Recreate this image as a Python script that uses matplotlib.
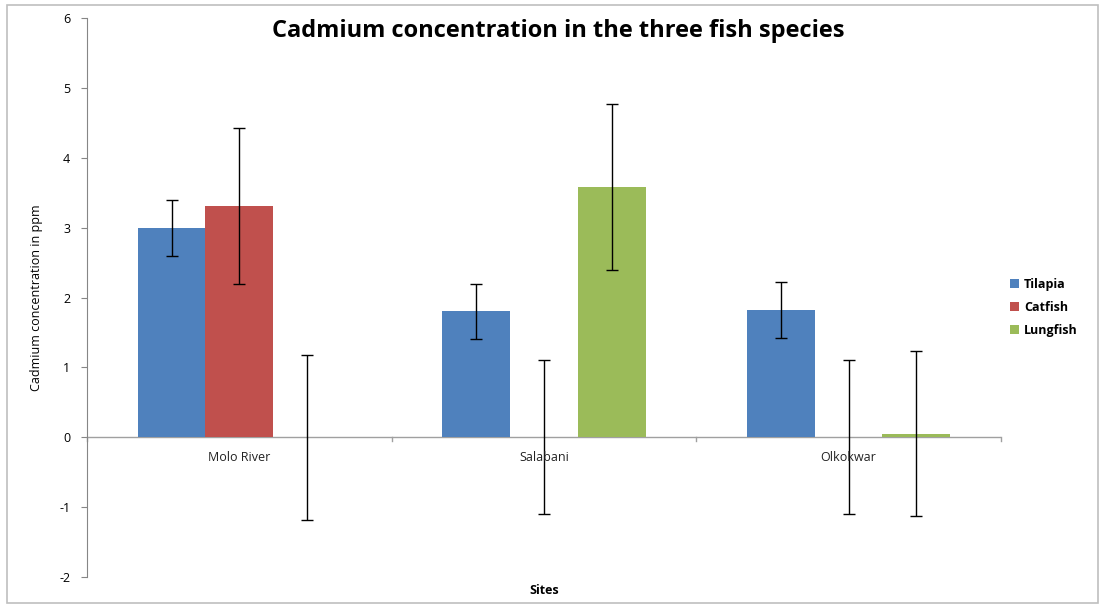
import matplotlib
matplotlib.use("Agg")
import matplotlib.pyplot as plt
import numpy as np
from matplotlib.patches import Rectangle

sites = ["Molo River", "Salabani", "Olkokwar"]
species = ["Tilapia", "Catfish", "Lungfish"]
tilapia = [3.00, 1.80, 1.82]
catfish = [3.31, 0.0, 0.0]
lungfish = [0.0, 3.58, 0.05]
tilapia_err = [0.40, 0.40, 0.40]
catfish_err = [1.11, 1.10, 1.10]
lungfish_err = [1.18, 1.19, 1.18]
colors = ["#4F81BD", "#C0504D", "#9BBB59"]

plt.rcParams["font.family"] = ["Open Sans", "DejaVu Sans"]
plt.rcParams["axes.unicode_minus"] = False

fig = plt.figure(figsize=(11.02, 6.05), dpi=100)
fig.patches.append(Rectangle((0.006, 0.004), 0.99, 0.988, transform=fig.transFigure,
                             fill=False, edgecolor="#BFBFBF", linewidth=1.2))
ax = fig.add_axes([0.0789, 0.0463, 0.8294, 0.9239])

x = np.arange(len(sites))
width = 1 / (len(species) + 1.5)
series = [tilapia, catfish, lungfish]
errs = [tilapia_err, catfish_err, lungfish_err]
for i, (name, vals, err) in enumerate(zip(species, series, errs)):
    pos = x + (i - 1) * width
    ax.bar(pos, vals, width, color=colors[i], label=name, zorder=2)
    ax.errorbar(pos, vals, yerr=err, fmt="none", ecolor="black", elinewidth=1,
                capsize=4, capthick=1, zorder=3)

ax.set_xlim(-0.5, 2.5)
ax.set_ylim(-2, 6)
ax.set_yticks(range(-2, 7))
ax.tick_params(axis="y", labelsize=9, length=4, color="#868686", pad=8)

ax.spines["top"].set_visible(False)
ax.spines["right"].set_visible(False)
ax.spines["bottom"].set_visible(False)
ax.spines["left"].set_color("#868686")
ax.axhline(0, color="#A0A0A0", linewidth=1, zorder=1)

# category boundary ticks on the zero line
ax.set_xticks([])
for b in np.arange(-0.5, 3.0, 1.0):
    ax.plot([b, b], [0, -0.06], color="#A0A0A0", linewidth=1, clip_on=False)
for xi, s in zip(x, sites):
    ax.text(xi, -0.2, s, ha="center", va="top", fontsize=9, color="#222222")

ax.set_xlabel("Sites", fontsize=9, fontweight="bold", labelpad=2)
ax.xaxis.set_label_coords(0.5, -0.012)
ax.set_ylabel("Cadmium concentration in ppm", fontsize=9)
ax.yaxis.set_label_coords(-0.048, 0.5)

fig.suptitle("Cadmium concentration in the three fish species", x=0.507, y=0.968,
             fontsize=17, fontweight="bold")

ax.legend(loc="center left", bbox_to_anchor=(0.998, 0.483), frameon=False,
          handlelength=0.7, handleheight=0.7, handletextpad=0.4, labelspacing=0.8,
          prop={"weight": "bold", "size": 9})

fig.savefig("out.png", dpi=100)
